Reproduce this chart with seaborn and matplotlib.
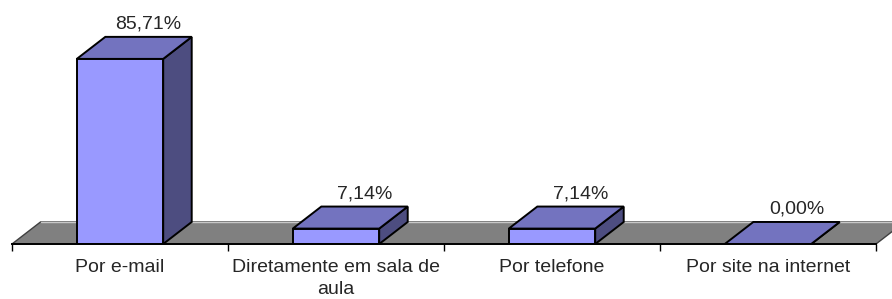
import matplotlib
matplotlib.use('Agg')
import matplotlib.pyplot as plt
import seaborn as sns
import pandas as pd
from matplotlib.patches import Polygon

# dados
categorias = ['Por e-mail', 'Diretamente em sala de\naula', 'Por telefone', 'Por site na internet']
valores = [85.71, 7.14, 7.14, 0.00]
rotulos = ['85,71%', '7,14%', '7,14%', '0,00%']

df = pd.DataFrame({'categoria': categorias, 'valor': valores})

sns.set_style('white')
plt.rcParams['font.family'] = ['Liberation Sans', 'DejaVu Sans']

fig = plt.figure(figsize=(8.92, 2.99), dpi=100)
ax = fig.add_axes([12/892, 55/299, 864/892, 230/299])

# face frontal das barras
sns.barplot(data=df, x='categoria', y='valor', color='#9999ff', saturation=1,
            width=0.4, edgecolor='black', linewidth=1.4, ax=ax, zorder=3)

ax.set_xlim(-0.5, 3.5)
ax.set_ylim(0, 106.5)

# profundidade do efeito 3D (em unidades de dados)
dx, dy = 0.132, 10.2

# piso
piso = Polygon([(-0.5, 0), (3.5, 0), (3.5 + dx, dy), (-0.5 + dx, dy)], closed=True,
               facecolor='#808080', edgecolor='#404040', linewidth=1, zorder=1, clip_on=False)
ax.add_patch(piso)
ax.plot([-0.5 + dx, 3.5 + dx], [dy, dy], color='#c8c8c8', linewidth=1, zorder=1.5, clip_on=False)

for p, rot in zip(list(ax.patches[:len(valores)]), rotulos):
    x0, w, h = p.get_x(), p.get_width(), p.get_height()
    lado = Polygon([(x0 + w, 0), (x0 + w + dx, dy), (x0 + w + dx, h + dy), (x0 + w, h)],
                   closed=True, facecolor='#4d4d80', edgecolor='black', linewidth=1.4, zorder=2)
    topo = Polygon([(x0, h), (x0 + w, h), (x0 + w + dx, h + dy), (x0 + dx, h + dy)],
                   closed=True, facecolor='#7373bf', edgecolor='black', linewidth=1.4, zorder=2)
    ax.add_patch(lado)
    ax.add_patch(topo)
    ax.annotate(rot, (x0 + w / 2 + dx, h + dy), xytext=(0, 3), textcoords='offset points',
                ha='center', va='bottom', fontsize=14, clip_on=False)

sns.despine(ax=ax, left=True, top=True, right=True)
ax.spines['bottom'].set_color('black')
ax.spines['bottom'].set_linewidth(1.4)
ax.spines['bottom'].set_zorder(4)

ax.set_yticks([])
ax.set_xticks([-0.5, 0.5, 1.5, 2.5, 3.5])
ax.set_xticklabels([])
ax.set_xticks(range(len(categorias)), minor=True)
ax.set_xticklabels(categorias, minor=True, fontsize=14, linespacing=1.4)
ax.tick_params(axis='x', which='major', direction='out', length=5, width=1, color='black', bottom=True)
ax.tick_params(axis='x', which='minor', length=0, pad=11)
ax.set_xlabel('')
ax.set_ylabel('')

fig.savefig('out.png', dpi=100)
